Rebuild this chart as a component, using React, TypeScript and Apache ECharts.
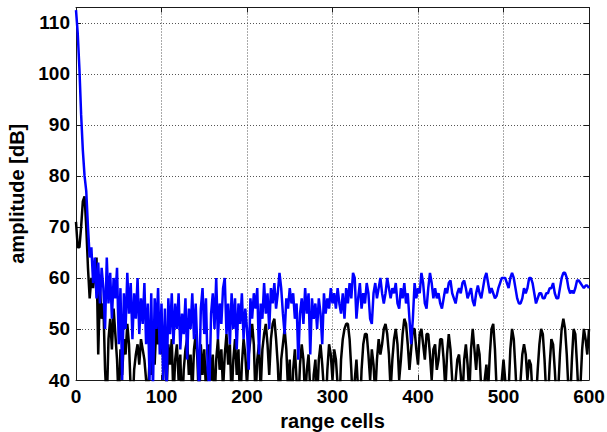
import React, { useEffect, useRef } from "react";
import * as echarts from "echarts";

// range cell spacing of the sampled values (cells 0, 2, 4, ... 600)
const cellStep = 2;

const xTickLabels = [0, 100, 200, 300, 400, 500, 600];
const yTickLabels = [40, 50, 60, 70, 80, 90, 100, 110];

// blue trace, amplitude [dB]
const blueValues = [
  // 0..30
  112.5, 108, 101, 92, 85, 80, 77, 70, 64, 66, 59, 64, 56, 63, 55, 62,
  // 32..100
  58, 50, 64, 55, 61, 52, 60, 56, 62, 47, 58, 40, 57, 50, 61, 53, 59, 48, 57, 52,
  60, 49, 56, 51, 59, 47, 55, 40, 57, 38, 56, 50, 58, 45, 55,
  // 102..200
  40, 54, 38, 56, 49, 57, 47, 55, 50, 57, 46, 53, 49, 56, 44, 54, 50, 57, 48, 55,
  46, 38, 54, 58, 49, 56, 42, 38, 53, 57, 50, 60, 48, 55, 51, 58, 60, 49, 55, 47,
  57, 50, 56, 46, 55, 51, 57, 48, 54, 50,
  // 202..300
  42, 56, 52, 57, 54, 58, 45, 55, 52, 59, 53, 57, 50, 58, 55, 59, 54, 57, 61, 58,
  53, 49, 56, 54, 58, 55, 57, 52, 55, 44, 53, 56, 51, 58, 53, 57, 45, 56, 52, 55,
  50, 56, 53, 47, 57, 53, 56, 54, 58, 55,
  // 302..400
  57, 54, 58, 55, 53, 57, 52, 58, 55, 59, 56, 61, 60, 52, 56, 59, 54, 57, 55, 59,
  57, 52, 51, 57, 59, 56, 58, 60, 57, 55, 57, 60, 58, 56, 58, 57, 59, 55, 54, 58,
  56, 59, 55, 57, 52, 47, 52, 59, 56, 58,
  // 402..500
  57, 61, 59, 55, 54, 58, 61, 59, 56, 58, 56, 57, 55, 54, 56, 58, 57, 59, 59.5, 57,
  56, 55, 57, 58, 57, 59, 59.5, 58, 56, 57, 58, 55.5, 54.5, 57, 58.5, 57, 56, 58, 60, 61,
  59, 57, 58, 57, 56, 56.5, 58, 59, 60, 60,
  // 502..600
  60, 59, 58, 60, 61, 60, 58, 56, 55, 55, 56, 58, 57, 58, 60, 60, 59, 57, 55, 56,
  57, 57, 56, 56, 57, 57, 58, 58, 59, 57, 56, 56, 58, 60, 61, 61, 60, 58, 57, 57.5,
  57, 58, 59.5, 59.5, 59, 58.5, 58, 58.5, 58.5, 58,
];

// black trace, amplitude [dB]
const blackValues = [
  // 0..30
  71, 66, 66, 70, 75, 76, 70, 62, 56, 60, 58, 61, 64, 45, 58, 52,
  // 32..100
  55, 42, 35, 48, 52, 46, 54, 49, 44, 35, 46, 41, 48, 45, 51, 47, 38, 34, 42, 45,
  47, 43, 48, 46, 44, 40, 36, 44, 41, 47, 43, 51, 47, 50, 45,
  // 102..200
  50, 44, 38, 47, 43, 48, 36, 44, 47, 40, 45, 33, 42, 46, 48, 41, 45, 37, 46, 49,
  44, 34, 47, 41, 46, 38, 43, 47, 40, 45, 35, 44, 48, 42, 46, 38, 45, 49, 43, 47,
  36, 44, 48, 41, 46, 34, 43, 48, 45, 39,
  // 202..300
  45, 48, 51, 47, 36, 44, 47, 38, 46, 49, 51, 47, 41, 48, 51, 52, 48, 43, 35, 44,
  47, 50, 46, 38, 44, 32, 42, 46, 40, 35, 43, 47, 44, 36, 42, 45, 38, 33, 41, 44,
  36, 44, 47, 43, 38, 34, 42, 47, 45, 40,
  // 302..400
  46, 44, 39, 34, 44, 48, 50, 51, 51, 48, 42, 34, 40, 44, 38, 33, 42, 47, 49, 49,
  45, 40, 46, 43, 37, 44, 48, 45, 47, 50, 51, 49, 45, 38, 44, 48, 50, 47, 40, 44,
  49, 52, 51, 47, 42, 46, 50, 50, 46, 43,
  // 402..500
  49, 50, 47, 44, 49, 49, 45, 40, 46, 47, 42, 44, 48, 48, 44, 38, 45, 49, 46, 40,
  35, 40, 44, 45, 41, 36, 44, 47, 43, 37, 46, 50, 46, 42, 47, 45, 38, 33, 40, 43,
  38, 45, 50, 51, 46, 38, 32, 35, 40, 44,
  // 502..600
  40, 34, 38, 46, 50, 48, 42, 35, 33, 40, 45, 47, 45, 40, 44, 43, 37, 33, 36, 42,
  47, 50, 49, 44, 37, 36, 43, 48, 47, 42, 36, 38, 45, 50, 52, 50, 45, 38, 36, 44,
  50, 49, 43, 36, 39, 46, 50, 48, 45, 50,
];

const FONT = "'Liberation Sans', Arial, Helvetica, sans-serif";

export default function App() {
  const ref = useRef<HTMLDivElement>(null);

  useEffect(() => {
    if (!ref.current) return;
    const chart = echarts.init(ref.current, null, { renderer: "svg" });
    const toPairs = (vals: number[]) => vals.map((v, i) => [i * cellStep, v]);
    const xMin = xTickLabels[0];
    const xMax = xTickLabels[xTickLabels.length - 1];
    const yMin = yTickLabels[0];
    const yMax = 113;
    const axisLineColor = "#1a1a1a";
    const labelStyle = {
      fontFamily: FONT,
      fontWeight: "bold" as const,
      fontSize: 19,
      color: "#000",
    };
    const gridLine = {
      show: true,
      lineStyle: { color: "#555", type: [1, 2] as number[], width: 1 },
    };

    chart.setOption({
      animation: false,
      backgroundColor: "#fff",
      grid: {
        left: 76,
        right: 18,
        top: 7.5,
        bottom: 52,
        containLabel: false,
        outerBoundsMode: "none",
      },
      xAxis: [
        {
          type: "value",
          min: xMin,
          max: xMax,
          interval: 100,
          position: "bottom",
          name: "range cells",
          nameLocation: "middle",
          nameGap: 27,
          nameTextStyle: { ...labelStyle, fontSize: 20 },
          axisLine: { show: true, onZero: false, lineStyle: { color: axisLineColor, width: 1 } },
          axisTick: { show: true, inside: true, length: 5, lineStyle: { color: axisLineColor } },
          axisLabel: { ...labelStyle, margin: 7 },
          splitLine: gridLine,
        },
        {
          type: "value",
          min: xMin,
          max: xMax,
          interval: 100,
          position: "top",
          axisLine: { show: true, onZero: false, lineStyle: { color: axisLineColor, width: 1 } },
          axisTick: { show: true, inside: true, length: 5, lineStyle: { color: axisLineColor } },
          axisLabel: { show: false },
          splitLine: { show: false },
        },
      ],
      yAxis: [
        {
          type: "value",
          min: yMin,
          max: yMax,
          interval: 10,
          position: "left",
          name: "amplitude [dB]",
          nameLocation: "middle",
          nameGap: 46,
          nameTextStyle: { ...labelStyle, fontSize: 20 },
          axisLine: { show: true, onZero: false, lineStyle: { color: axisLineColor, width: 1 } },
          axisTick: { show: true, inside: true, length: 5, lineStyle: { color: axisLineColor } },
          axisLabel: { ...labelStyle, margin: 6, showMaxLabel: false },
          splitLine: gridLine,
        },
        {
          type: "value",
          min: yMin,
          max: yMax,
          interval: 10,
          position: "right",
          axisLine: { show: true, onZero: false, lineStyle: { color: axisLineColor, width: 1 } },
          axisTick: { show: true, inside: true, length: 5, lineStyle: { color: axisLineColor } },
          axisLabel: { show: false },
          splitLine: { show: false },
        },
      ],
      series: [
        {
          type: "line",
          name: "black",
          data: toPairs(blackValues),
          showSymbol: false,
          symbol: "none",
          clip: true,
          lineStyle: { color: "#000", width: 2.5 },
          xAxisIndex: 0,
          yAxisIndex: 0,
          z: 2,
        },
        {
          type: "line",
          name: "blue",
          data: toPairs(blueValues),
          showSymbol: false,
          symbol: "none",
          clip: true,
          lineStyle: { color: "#0000ff", width: 2.5 },
          xAxisIndex: 0,
          yAxisIndex: 0,
          z: 3,
        },
      ],
    });

    return () => chart.dispose();
  }, []);

  return (
    <div
      ref={ref}
      style={{ position: "absolute", left: 0, top: 0, width: 607, height: 432, background: "#fff" }}
    />
  );
}
